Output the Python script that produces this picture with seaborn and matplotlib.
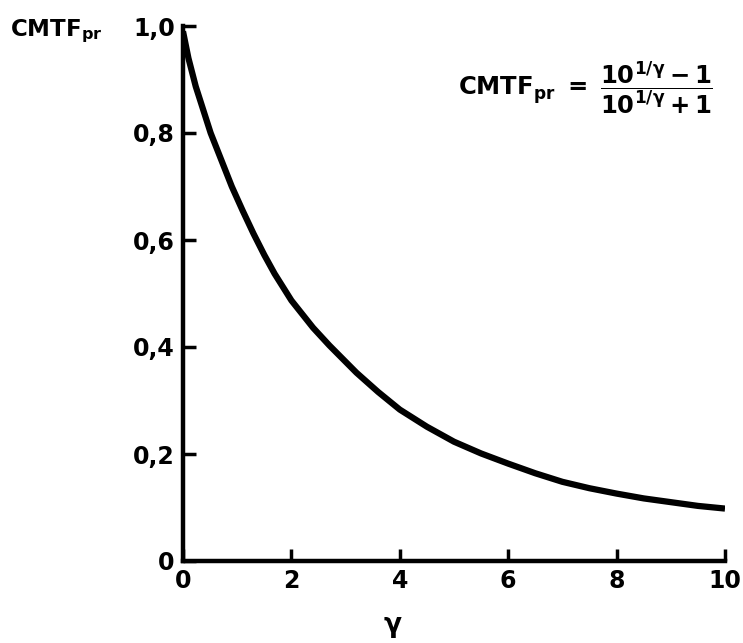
import matplotlib
matplotlib.use("Agg")
import matplotlib.pyplot as plt
import seaborn as sns
import pandas as pd

# Values
gamma = [0.0, 0.1, 0.235, 0.51, 0.9, 1.1, 1.3, 1.5, 1.69, 2.0, 2.4, 2.7, 3.2, 3.6, 4.0, 4.5, 5.0, 5.5, 6.0, 6.5, 7.0, 7.5, 8.0, 8.5, 9.0, 9.5, 10.0]
cmtf = [0.99, 0.94, 0.887, 0.80, 0.70, 0.655, 0.612, 0.572, 0.537, 0.487, 0.436, 0.403, 0.352, 0.316, 0.283, 0.251, 0.223, 0.201, 0.182, 0.164, 0.148, 0.136, 0.126, 0.117, 0.110, 0.103, 0.098]

x_ticks = [0, 2, 4, 6, 8, 10]
x_ticklabels = ["0", "2", "4", "6", "8", "10"]
y_ticks = [0, 0.2, 0.4, 0.6, 0.8, 1.0]
y_ticklabels = ["0", "0,2", "0,4", "0,6", "0,8", "1,0"]

df = pd.DataFrame({"gamma": gamma, "cmtf": cmtf})

sns.set_style("ticks")
plt.rcParams["font.family"] = ["DejaVu Sans"]
plt.rcParams["mathtext.fontset"] = "dejavusans"
plt.rcParams["mathtext.default"] = "bf"
plt.rcParams["text.color"] = "black"
plt.rcParams["axes.labelcolor"] = "black"
plt.rcParams["xtick.color"] = "black"
plt.rcParams["ytick.color"] = "black"

fig = plt.figure(figsize=(7.43, 6.43), dpi=100)
ax = fig.add_axes([183 / 743, 1 - 561 / 643, 542 / 743, 535 / 643])

sns.lineplot(data=df, x="gamma", y="cmtf", ax=ax, color="black", linewidth=4.5,
             solid_capstyle="butt", solid_joinstyle="round")

ax.set_xlim(0, 10)
ax.set_ylim(0, 1.0)
ax.set_xticks(x_ticks)
ax.set_xticklabels(x_ticklabels, fontsize=17, fontweight="heavy")
ax.set_yticks(y_ticks)
ax.set_yticklabels(y_ticklabels, fontsize=17, fontweight="heavy")
ax.tick_params(axis="both", direction="in", length=9, width=2.5, colors="black",
               labelcolor="black")
ax.tick_params(axis="x", pad=6)
ax.tick_params(axis="y", pad=6)

for side in ["top", "right"]:
    ax.spines[side].set_visible(False)
for side in ["left", "bottom"]:
    ax.spines[side].set_linewidth(3.2)
    ax.spines[side].set_color("black")

ax.set_xlabel(r"$\gamma$", fontsize=19)
ax.xaxis.set_label_coords((393 - 183) / 542, -0.10)
ax.set_ylabel("")

fig.text(10 / 743, 1 - 36 / 643, r"$\mathbf{CMTF_{pr}}$", fontsize=16.5, ha="left",
         va="baseline", color="black")
fig.text(458 / 743, 1 - 88 / 643,
         r"$\mathbf{CMTF_{pr}}\ =\ \dfrac{10^{1/\gamma}-1}{10^{1/\gamma}+1}$",
         fontsize=17.5, ha="left", va="center", color="black")

fig.savefig("out.png", dpi=100, facecolor="white")
